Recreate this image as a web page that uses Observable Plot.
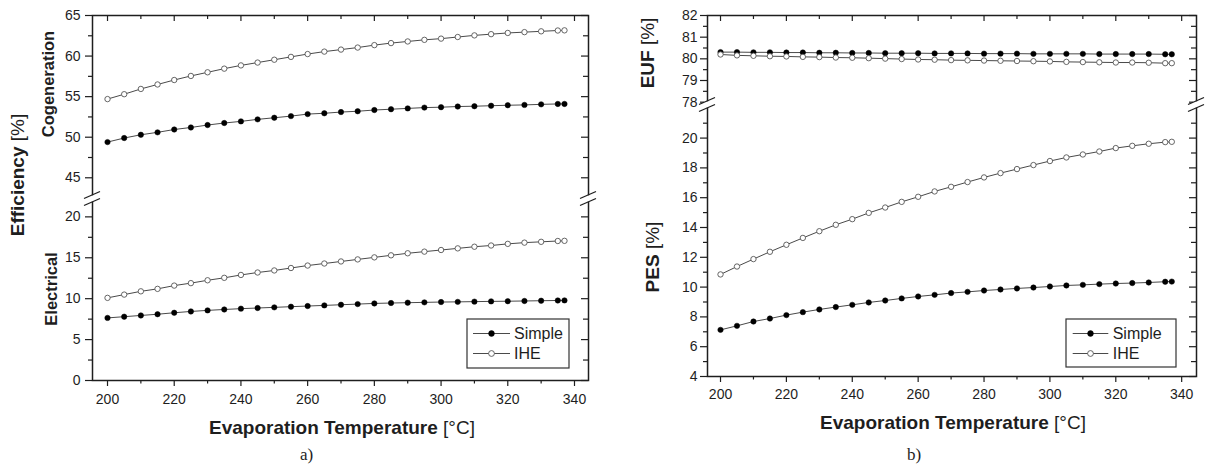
<!DOCTYPE html>
<html><head><meta charset="utf-8">
<script src="https://cdn.jsdelivr.net/npm/d3@7"></script>
<script src="https://cdn.jsdelivr.net/npm/@observablehq/plot@0.6"></script>
<style>
html,body{margin:0;padding:0;background:#fff;}
#wrap{position:relative;width:1206px;height:473px;overflow:hidden;background:#fff;}
#wrap svg{position:absolute;top:0;}
</style></head><body><div id="wrap"></div>
<script>
// ---- data ----
const temps = [200,205,210,215,220,225,230,235,240,245,250,255,260,265,270,275,280,285,290,295,300,305,310,315,320,325,330,335,337];

const cogSimple = [49.4,49.9,50.3,50.6,50.95,51.2,51.5,51.75,51.95,52.2,52.4,52.6,52.85,52.95,53.1,53.2,53.35,53.45,53.55,53.65,53.7,53.78,53.82,53.88,53.94,53.98,54.05,54.1,54.1];
const cogIHE    = [54.7,55.3,55.95,56.5,57.05,57.55,58.0,58.45,58.85,59.2,59.55,59.9,60.25,60.55,60.8,61.05,61.35,61.6,61.8,62.0,62.15,62.35,62.55,62.7,62.85,62.95,63.05,63.15,63.17];
const elecSimple = [7.65,7.8,7.95,8.1,8.28,8.44,8.57,8.68,8.78,8.86,8.94,9.02,9.1,9.18,9.26,9.34,9.42,9.47,9.51,9.55,9.59,9.61,9.64,9.67,9.69,9.72,9.75,9.78,9.79];
const elecIHE    = [10.1,10.5,10.9,11.2,11.6,11.9,12.25,12.55,12.9,13.2,13.45,13.75,14.05,14.3,14.55,14.8,15.05,15.3,15.55,15.75,15.95,16.15,16.35,16.5,16.7,16.85,16.95,17.05,17.07];

const eufSimple = [80.31,80.31,80.30,80.30,80.29,80.29,80.28,80.28,80.27,80.27,80.26,80.26,80.26,80.25,80.25,80.25,80.24,80.24,80.24,80.23,80.23,80.23,80.23,80.22,80.22,80.22,80.22,80.21,80.21];
const eufIHE    = [80.20,80.16,80.14,80.12,80.11,80.09,80.08,80.06,80.05,80.03,80.01,79.99,79.97,79.96,79.94,79.93,79.92,79.91,79.90,79.89,79.88,79.86,79.85,79.84,79.83,79.83,79.82,79.80,79.80];
const pesSimple = [7.13,7.4,7.69,7.89,8.12,8.32,8.5,8.66,8.81,8.97,9.1,9.24,9.37,9.48,9.6,9.68,9.77,9.84,9.91,9.97,10.04,10.11,10.15,10.2,10.24,10.27,10.31,10.36,10.37];
const pesIHE    = [10.85,11.38,11.88,12.37,12.84,13.3,13.75,14.18,14.56,14.98,15.34,15.72,16.06,16.42,16.73,17.05,17.36,17.65,17.92,18.19,18.46,18.7,18.9,19.1,19.33,19.48,19.62,19.73,19.75];

// ---- ticks / labels ----
const xMajor = [200,220,240,260,280,300,320,340];
const xMinor = [210,230,250,270,290,310,330];
const leftYMajor = [0,5,10,15,20,45,50,55,60,65];
const leftYMinor = [2.5,7.5,12.5,17.5,47.5,52.5,57.5,62.5];
const rightYMajor = [4,6,8,10,12,14,16,18,20,78,79,80,81,82];
const rightYMinor = [5,7,9,11,13,15,17,19,21,78.5,79.5,80.5,81.5];
const seriesNames = ["Simple","IHE"];
const xTitleBold = "Evaporation Temperature";
const xTitleUnit = " [°C]";

const FONT = "'Liberation Sans', Arial, Helvetica, sans-serif";
const INK = "#1e1e1e";
const LINE = "#4a4a4a";

function rows(vals){ return temps.map((t,i)=>({t, v: vals[i]})); }

function panel(o) {
  const H = 473;
  const plotW = o.width - o.marginLeft - o.marginRight;
  const plotH = H - o.marginTop - o.marginBottom;
  const marks = [];
  for (const s of o.sets) {
    const d = rows(s.vals);
    marks.push(Plot.line(d, {x:"t", y:"v", stroke: LINE, strokeWidth: 1}));
    marks.push(Plot.dot(d, {x:"t", y:"v", r: 2.7,
      fill: s.open ? "#fff" : "#000", stroke: s.open ? "#555" : "#000", strokeWidth: s.open ? 0.9 : 0.5}));
  }
  const chart = Plot.plot({
    width: o.width, height: H,
    marginLeft: o.marginLeft, marginRight: o.marginRight,
    marginTop: o.marginTop, marginBottom: o.marginBottom,
    style: {fontFamily: FONT, fontSize: "14px", color: INK, background: "transparent"},
    x: {domain: o.xDomain, label: null},
    y: {type: "linear", domain: o.yDomain, range: o.yRange, label: null},
    marks: [
      ...marks,
      Plot.axisY(o.yMajor, {anchor: "left", tickSize: 7, tickPadding: o.yPad, fontSize: 14, color: INK, strokeWidth: 1.2, label: null}),
      Plot.axisY(o.yMinor, {anchor: "left", tickSize: 4, tickFormat: () => "", color: INK, strokeWidth: 1.2, label: null}),
      Plot.axisX(xMajor, {anchor: "bottom", tickSize: 6, tickPadding: o.xPad, fontSize: 14, color: INK, strokeWidth: 1.2, label: null}),
      Plot.axisX(xMinor, {anchor: "bottom", tickSize: 3.5, tickFormat: () => "", color: INK, strokeWidth: 1.2, label: null}),
      Plot.tickX(xMajor, {x: d => d, insetBottom: plotH - 6, stroke: INK, strokeWidth: 1.2}),
      Plot.tickX(xMinor, {x: d => d, insetBottom: plotH - 4, stroke: INK, strokeWidth: 1.2}),
      Plot.tickY(o.yMajor, {y: d => d, insetLeft: plotW - 7, stroke: INK, strokeWidth: 1.2}),
      Plot.tickY(o.yMinor, {y: d => d, insetLeft: plotW - 5, stroke: INK, strokeWidth: 1.2}),
      Plot.frame({stroke: INK, strokeWidth: 1.5})
    ]
  });
  chart.style.left = o.left + "px";
  const svg = d3.select(chart);
  const y = chart.scale("y");
  const c = y.apply(o.breakVal) - 1.5;
  const xl = o.marginLeft, xr = o.width - o.marginRight;
  for (const x of [xl, xr]) {
    svg.append("rect").attr("x", x - 3).attr("y", c - 3.2).attr("width", 6).attr("height", 6.4).attr("fill", "#fff");
    for (const cy of [c - 3.5, c + 3.5]) {
      svg.append("line").attr("x1", x - 8).attr("y1", cy + 3.5).attr("x2", x + 8).attr("y2", cy - 3.5)
        .attr("stroke", INK).attr("stroke-width", 1.3);
    }
  }
  // x title
  const xt = svg.append("text").attr("x", o.xTitleX).attr("y", o.xTitleY).attr("text-anchor", "middle")
    .attr("font-family", FONT).attr("font-size", 19).attr("fill", INK);
  xt.append("tspan").attr("font-weight", "bold").text(xTitleBold);
  xt.append("tspan").text(xTitleUnit);
  // y titles
  for (const t of o.yTitles) {
    const e = svg.append("text").attr("transform", `translate(${t.x},${t.y}) rotate(-90)`)
      .attr("text-anchor", "middle").attr("font-family", FONT).attr("font-size", t.size).attr("fill", INK);
    e.append("tspan").attr("font-weight", "bold").text(t.bold);
    if (t.unit) e.append("tspan").text(t.unit);
  }
  // panel letter
  svg.append("text").attr("x", o.letterX).attr("y", 460).attr("text-anchor", "start")
    .attr("font-family", "'Liberation Serif', 'Times New Roman', serif")
    .attr("font-size", 17).attr("fill", INK).text(o.letter);
  // legend
  const L = o.legend;
  svg.append("rect").attr("x", L.x).attr("y", L.y).attr("width", L.w).attr("height", L.h)
    .attr("fill", "#fff").attr("stroke", "#333").attr("stroke-width", 1.2);
  seriesNames.forEach((name, i) => {
    const ry = L.y + 14.5 + i * 20;
    svg.append("line").attr("x1", L.lx1).attr("x2", L.lx2).attr("y1", ry).attr("y2", ry).attr("stroke", LINE).attr("stroke-width", 1);
    svg.append("circle").attr("cx", (L.lx1 + L.lx2) / 2).attr("cy", ry).attr("r", 2.9)
      .attr("fill", i === 0 ? "#000" : "#fff").attr("stroke", i === 0 ? "#000" : "#555").attr("stroke-width", i === 0 ? 0.5 : 0.9);
    svg.append("text").attr("x", L.tx).attr("y", ry + 5.5).attr("text-anchor", "start")
      .attr("font-family", FONT).attr("font-size", 16).attr("fill", INK).text(name);
  });
  document.getElementById("wrap").appendChild(chart);
}

panel({
  left: 0, width: 600, marginLeft: 92, marginRight: 12, marginTop: 15, marginBottom: 93,
  xDomain: [195.5, 344.2],
  yDomain: [0, 22, 42.2, 65], yRange: [380, 200, 200, 15],
  yMajor: leftYMajor, yMinor: leftYMinor, yPad: 5, xPad: 8, breakVal: 30,
  sets: [{vals: cogSimple}, {vals: cogIHE, open: true}, {vals: elecSimple}, {vals: elecIHE, open: true}],
  xTitleX: 342, xTitleY: 434,
  yTitles: [
    {x: 24, y: 175, size: 19, bold: "Efficiency", unit: " [%]"},
    {x: 53.5, y: 84, size: 16.5, bold: "Cogeneration"},
    {x: 57, y: 289, size: 16.5, bold: "Electrical"}
  ],
  letter: "a)", letterX: 300,
  legend: {x: 467, y: 319, w: 102, h: 49, lx1: 473, lx2: 510, tx: 514}
});

panel({
  left: 600, width: 606, marginLeft: 107, marginRight: 10, marginTop: 15, marginBottom: 97,
  xDomain: [196.05, 344.5],
  yDomain: [4, 22.12, 77.8, 82], yRange: [376, 106, 106, 15],
  yMajor: rightYMajor, yMinor: rightYMinor, yPad: 3, xPad: 7, breakVal: 50,
  sets: [{vals: eufSimple}, {vals: eufIHE, open: true}, {vals: pesSimple}, {vals: pesIHE, open: true}],
  xTitleX: 353, xTitleY: 429,
  yTitles: [
    {x: 53.6, y: 53, size: 19, bold: "EUF", unit: " [%]"},
    {x: 58.6, y: 257, size: 19, bold: "PES", unit: " [%]"}
  ],
  letter: "b)", letterX: 307,
  legend: {x: 466, y: 319, w: 110, h: 48, lx1: 472.7, lx2: 508.3, tx: 512.7}
});
</script>
</body></html>
